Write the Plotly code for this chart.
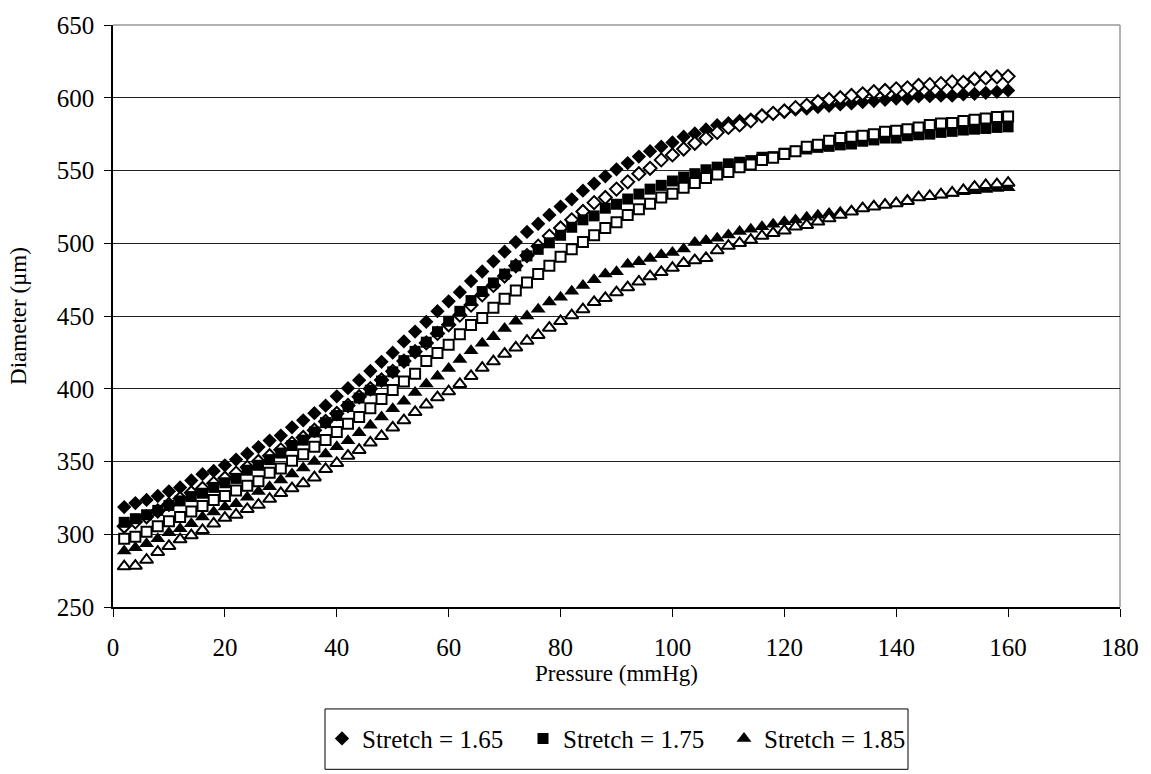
import plotly.graph_objects as go

pressure = list(range(2, 161, 2))

# Stretch = 1.65 (filled / open diamonds)
d165_filled = [318.7, 321.4, 323.6, 326.3, 329.5, 332.2, 337.0, 341.3, 343.5, 347.4,
               351.3, 355.4, 359.9, 364.4, 367.8, 373.5, 378.3, 383.2, 388.4, 394.8,
               400.4, 405.9, 412.2, 418.5, 424.8, 432.5, 439.3, 446.0, 453.3, 460.1,
               466.4, 474.0, 480.6, 487.6, 494.2, 500.8, 507.8, 513.4, 519.5, 525.2,
               530.2, 536.1, 541.0, 546.0, 550.8, 555.1, 559.6, 563.3, 566.4, 569.3,
               573.2, 575.5, 578.2, 581.1, 582.5, 584.1, 585.2, 587.9, 589.1, 590.2,
               591.8, 592.5, 593.6, 594.5, 595.4, 596.1, 597.0, 597.7, 598.6, 599.5,
               599.5, 600.9, 601.1, 601.4, 601.4, 602.3, 602.7, 603.4, 604.1, 605.0]
d165_open = [305.5, 308.5, 312.0, 316.0, 320.5, 324.5, 328.5, 331.5, 335.0, 338.5,
             342.0, 346.0, 350.0, 354.0, 358.0, 362.5, 366.5, 371.5, 377.5, 383.0,
             388.5, 394.5, 400.0, 406.0, 412.0, 419.0, 425.5, 431.5, 438.0, 444.0,
             450.6, 457.5, 464.5, 471.0, 477.5, 484.5, 491.5, 498.0, 504.9, 510.5,
             516.1, 521.8, 527.9, 531.5, 537.2, 542.2, 547.8, 551.5, 557.3, 560.7,
             564.8, 568.7, 572.1, 576.2, 579.6, 581.3, 584.1, 587.5, 589.3, 590.9,
             593.2, 594.8, 597.3, 598.8, 600.0, 601.6, 602.7, 604.1, 605.0, 606.1,
             606.8, 608.4, 609.0, 609.7, 610.9, 610.6, 612.9, 613.6, 614.3, 614.7]

# Stretch = 1.75 (filled / open squares)
d175_filled = [308.2, 310.7, 313.4, 316.4, 319.8, 322.9, 325.9, 328.2, 332.2, 335.4,
               338.4, 344.0, 347.4, 351.3, 355.8, 361.0, 364.7, 370.3, 376.7, 381.6,
               387.8, 393.6, 399.0, 405.3, 411.6, 419.3, 425.7, 432.0, 439.2, 446.4,
               453.2, 460.6, 466.8, 472.7, 478.8, 484.5, 491.3, 495.8, 500.3, 505.5,
               511.0, 516.1, 518.8, 524.1, 526.8, 530.4, 533.8, 537.2, 539.8, 542.8,
               545.5, 547.8, 550.5, 552.3, 554.6, 555.7, 556.8, 559.1, 559.5, 561.9,
               563.2, 564.8, 565.9, 566.6, 567.6, 568.2, 570.1, 571.0, 572.3, 572.3,
               573.9, 574.6, 575.0, 576.2, 576.9, 577.8, 578.4, 578.9, 579.6, 580.0]
d175_open = [296.9, 298.3, 301.7, 305.5, 308.9, 311.9, 315.7, 319.5, 323.6, 326.3,
             330.0, 333.3, 336.5, 342.2, 345.2, 350.6, 355.0, 360.2, 364.7, 370.3,
             376.0, 380.5, 386.6, 393.0, 399.1, 404.9, 410.3, 419.0, 424.6, 430.3,
             437.5, 443.8, 448.7, 455.7, 461.8, 467.5, 473.1, 478.8, 484.5, 490.8,
             495.8, 500.8, 505.5, 510.5, 514.4, 519.5, 523.4, 527.2, 531.4, 534.1,
             538.2, 541.4, 544.8, 547.3, 548.9, 552.3, 554.1, 557.3, 558.7, 561.4,
             563.2, 566.4, 567.7, 570.4, 572.3, 573.2, 573.9, 575.0, 576.6, 577.3,
             578.4, 579.6, 581.2, 582.3, 582.7, 584.1, 584.8, 585.7, 586.8, 587.1]

# Stretch = 1.85 (filled / open triangles)
d185_filled = [288.5, 290.8, 293.5, 296.9, 301.0, 303.7, 307.3, 311.9, 315.3, 318.7,
               320.9, 325.5, 329.3, 332.7, 337.2, 341.4, 345.5, 350.0, 355.2, 360.2,
               364.2, 369.7, 374.9, 380.5, 386.2, 391.4, 397.5, 403.2, 408.6, 414.0,
               420.1, 426.2, 431.2, 435.8, 441.4, 446.4, 450.0, 454.6, 459.6, 462.9,
               467.0, 470.9, 475.0, 478.8, 480.4, 485.6, 487.2, 489.6, 492.1, 493.7,
               496.0, 500.5, 501.9, 503.5, 505.7, 508.0, 509.6, 511.4, 513.0, 514.8,
               515.9, 517.8, 519.3, 520.5, 521.3, 522.2, 524.0, 525.6, 526.7, 527.9,
               529.7, 531.3, 532.4, 533.1, 534.2, 535.4, 536.1, 536.9, 537.6, 538.1]
d185_open = [277.9, 278.3, 282.4, 287.8, 291.9, 296.4, 299.2, 302.8, 307.3, 311.2,
             313.4, 317.3, 320.2, 324.3, 328.2, 331.6, 335.0, 339.0, 344.8, 348.9,
             353.9, 357.9, 362.9, 367.4, 373.3, 378.3, 383.9, 389.1, 394.1, 398.2,
             403.2, 408.7, 414.3, 418.8, 424.0, 428.3, 432.9, 436.9, 441.9, 446.4,
             450.5, 454.6, 459.6, 462.3, 466.3, 469.7, 473.6, 477.3, 480.1, 483.0,
             486.4, 488.3, 489.8, 495.1, 498.2, 500.1, 502.3, 505.0, 506.9, 508.7,
             511.4, 512.5, 514.8, 517.1, 519.5, 521.8, 524.0, 525.2, 526.3, 527.4,
             529.0, 531.5, 532.4, 533.5, 534.7, 536.5, 538.8, 539.9, 540.5, 541.5]

legend_names = ["Stretch = 1.65", "Stretch = 1.75", "Stretch = 1.85"]
x_ticks = list(range(0, 181, 20))
y_ticks = list(range(250, 651, 50))

FONT = "Liberation Serif"

fig = go.Figure()

def add(y, symbol, filled, name, show, size):
    fig.add_trace(go.Scatter(
        x=pressure, y=y, mode="markers", name=name, showlegend=show,
        marker=dict(symbol=symbol, size=size,
                    color="black" if filled else "white",
                    line=dict(color="black", width=0 if filled else 2)),
        hoverinfo="x+y"))

add(d165_filled, "diamond", True, legend_names[0], True, 11)
add(d165_open, "diamond", False, legend_names[0], False, 10)
add(d175_filled, "square", True, legend_names[1], True, 11)
add(d175_open, "square", False, legend_names[1], False, 10)
add(d185_filled, "triangle-up", True, legend_names[2], True, 13)
add(d185_open, "triangle-up", False, legend_names[2], False, 11.5)

L, R, T, B = 113, 31, 20, 166
W, H = 1151, 774
pw, ph = W - L - R, H - T - B

def px_x(p):
    return (p - L) / pw

def px_y(p):
    return (H - B - p) / ph

fig.update_layout(
    width=W, height=H,
    margin=dict(l=L, r=R, t=T, b=B, pad=0),
    paper_bgcolor="white", plot_bgcolor="white",
    font=dict(family=FONT, size=25, color="black"),
    xaxis=dict(range=[0, 180], tickvals=x_ticks, showgrid=False, zeroline=False,
               showline=True, linecolor="black", linewidth=1.5,
               ticks="outside", ticklen=8, tickcolor="black", tickwidth=1,
               tickfont=dict(size=25), ticklabelstandoff=9,
               title=dict(text="Pressure (mmHg)", font=dict(size=23), standoff=2)),
    yaxis=dict(range=[250, 650], tickvals=y_ticks, showgrid=True,
               gridcolor="#222222", gridwidth=1, zeroline=False,
               showline=True, linecolor="black", linewidth=1.5,
               ticks="outside", ticklen=7, tickcolor="black", tickwidth=1,
               tickfont=dict(size=25), ticklabelstandoff=5,
               title=dict(text="Diameter (µm)", font=dict(size=23), standoff=24)),
    legend=dict(orientation="h", x=px_x(322), xanchor="left",
                y=px_y(741), yanchor="middle",
                font=dict(size=25), bgcolor="rgba(0,0,0,0)", borderwidth=0,
                entrywidth=156, entrywidthmode="pixels",
                tracegroupgap=0),
    shapes=[
        dict(type="line", xref="paper", yref="paper", x0=0, x1=1, y0=1, y1=1,
             line=dict(color="#999999", width=1.5), layer="below"),
        dict(type="line", xref="paper", yref="paper", x0=1, x1=1, y0=0, y1=1,
             line=dict(color="#999999", width=1.5), layer="below"),
        dict(type="rect", xref="paper", yref="paper",
             x0=px_x(325), x1=px_x(908), y0=px_y(772), y1=px_y(711),
             line=dict(color="black", width=1), fillcolor="rgba(0,0,0,0)"),
    ],
)

fig.write_html("out.html")
